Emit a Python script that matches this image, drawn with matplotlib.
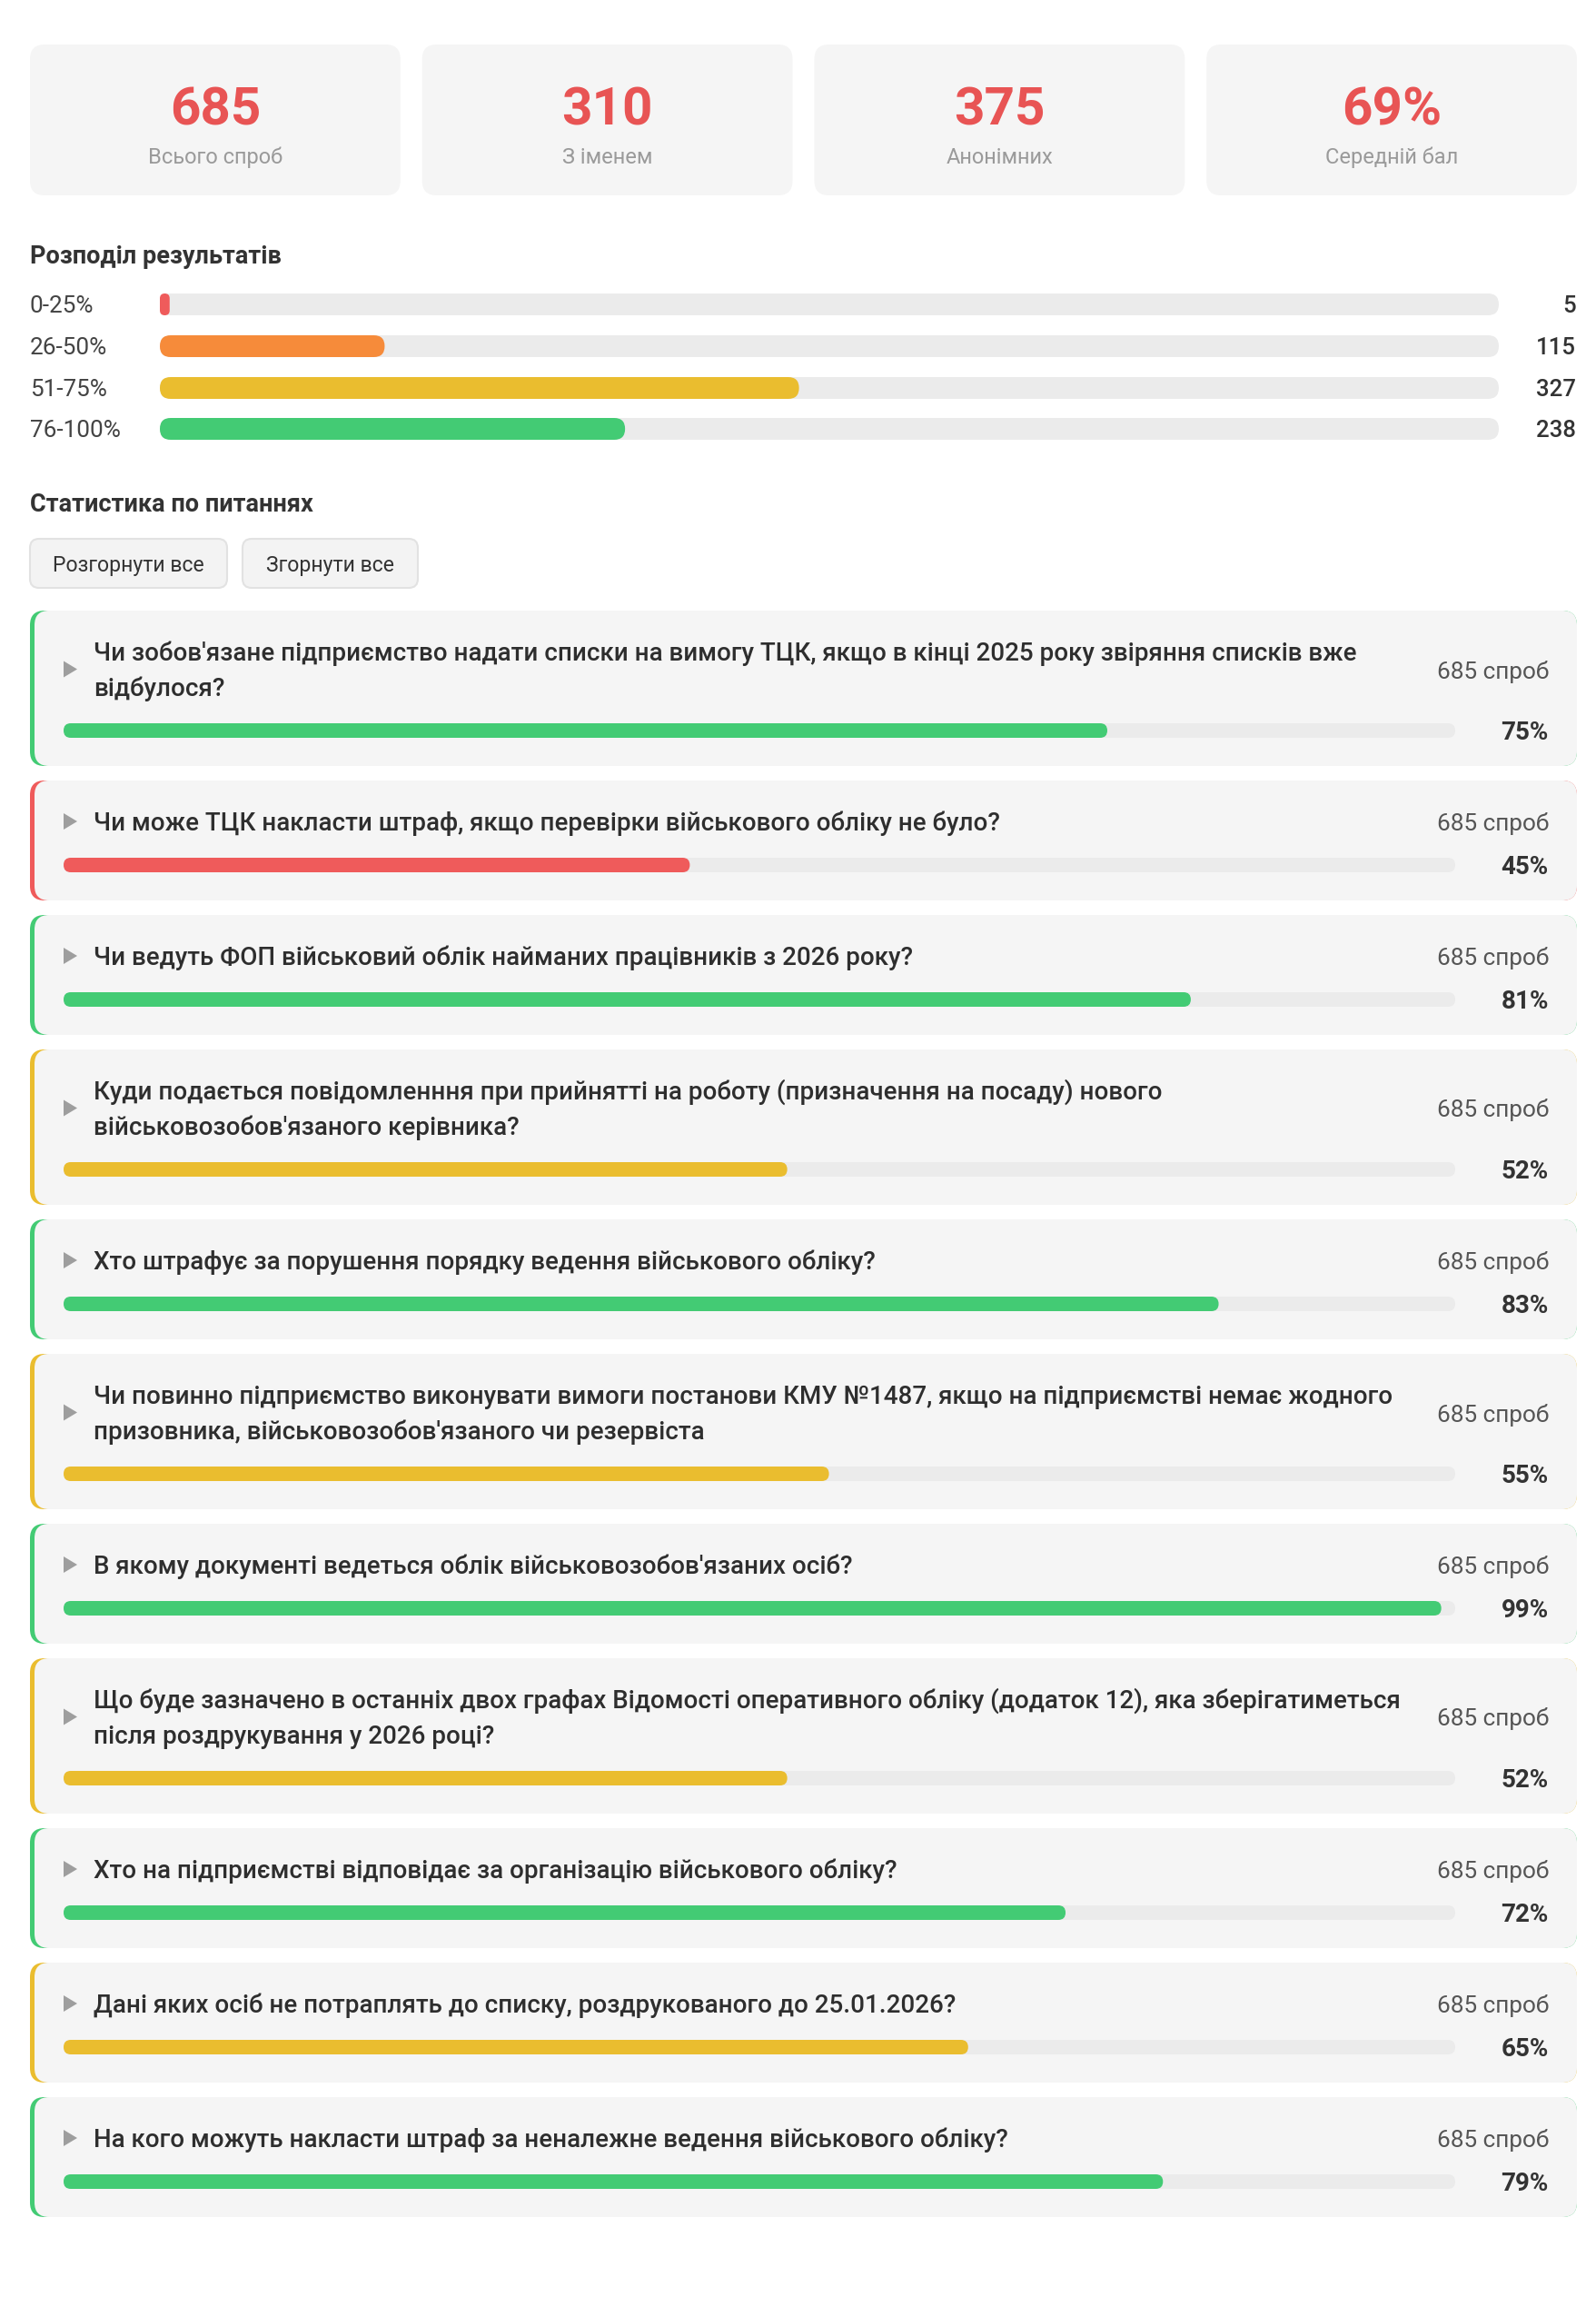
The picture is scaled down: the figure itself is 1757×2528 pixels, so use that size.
import matplotlib
matplotlib.use("Agg")
import matplotlib.pyplot as plt
from matplotlib.patches import FancyBboxPatch, Polygon

plt.rcParams['font.family'] = ['Roboto', 'DejaVu Sans']

# ---------------- data ----------------
stat_values = ["685", "310", "375", "69%"]
stat_labels = ["Всього спроб", "З іменем", "Анонімних", "Середній бал"]

dist_labels = ["0-25%", "26-50%", "51-75%", "76-100%"]
dist_counts = [5, 115, 327, 238]
total_attempts = 685

questions = [
    "Чи зобов'язане підприємство надати списки на вимогу ТЦК, якщо в кінці 2025 року звіряння списків вже\nвідбулося?",
    "Чи може ТЦК накласти штраф, якщо перевірки військового обліку не було?",
    "Чи ведуть ФОП військовий облік найманих працівників з 2026 року?",
    "Куди подається повідомленння при прийнятті на роботу (призначення на посаду) нового\nвійськовозобов'язаного керівника?",
    "Хто штрафує за порушення порядку ведення військового обліку?",
    "Чи повинно підприємство виконувати вимоги постанови КМУ №1487, якщо на підприємстві немає жодного\nпризовника, військовозобов'язаного чи резервіста",
    "В якому документі ведеться облік військовозобов'язаних осіб?",
    "Що буде зазначено в останніх двох графах Відомості оперативного обліку (додаток 12), яка зберігатиметься\nпісля роздрукування у 2026 році?",
    "Хто на підприємстві відповідає за організацію військового обліку?",
    "Дані яких осіб не потраплять до списку, роздрукованого до 25.01.2026?",
    "На кого можуть накласти штраф за неналежне ведення військового обліку?",
]
question_pct = [75, 45, 81, 52, 83, 55, 99, 52, 72, 65, 79]
question_attempts = [685] * 11

# ---------------- styles ----------------
RED_NUM = "#e85454"
RED = "#ef5b5b"
ORANGE = "#f68b3a"
YELLOW = "#eabd2f"
GREEN = "#43cb74"
TRACK = "#ebebeb"
CARD = "#f5f5f5"
DARK = "#333333"
GREY = "#9a9a9a"
dist_colors = [RED, ORANGE, YELLOW, GREEN]


def pct_color(p):
    if p >= 70:
        return GREEN
    if p >= 50:
        return YELLOW
    return RED


W, H = 1758, 2528
fig = plt.figure(figsize=(W / 100, H / 100), dpi=100)
ax = fig.add_axes([0, 0, 1, 1])
ax.set_xlim(0, W)
ax.set_ylim(H, 0)
ax.axis("off")


def rbox(x, y, w, h, r, fc, ec="none", lw=0, z=1):
    r = max(0.01, min(r, w / 2, h / 2))
    p = FancyBboxPatch((x, y), w, h, boxstyle=f"round,pad=0,rounding_size={r}",
                       fc=fc, ec=ec, lw=lw, zorder=z, mutation_aspect=1)
    ax.add_patch(p)
    return p


def hbar(x0, x1, yc, h, frac, color):
    rbox(x0, yc - h / 2, x1 - x0, h, h / 2, TRACK, z=2)
    w = (x1 - x0) * frac
    if w > 0:
        rbox(x0, yc - h / 2, w, h, h / 2, color, z=3)


# ---------------- stat cards ----------------
cx0, cx1, gap = 33, 1736, 24
cw = (cx1 - cx0 - 3 * gap) / 4
for i, (v, lab) in enumerate(zip(stat_values, stat_labels)):
    x = cx0 + i * (cw + gap)
    rbox(x, 49, cw, 166, 16, CARD)
    ax.text(x + cw / 2, 138, v, ha="center", va="baseline", fontsize=42,
            fontweight="bold", color=RED_NUM, zorder=5)
    ax.text(x + cw / 2, 180, lab, ha="center", va="baseline", fontsize=17,
            color=GREY, zorder=5)

# ---------------- distribution ----------------
ax.text(33, 290, "Розподіл результатів", ha="left", va="baseline",
        fontsize=19.5, fontweight="bold", color=DARK)
dist_y = [335, 381, 427, 472]
for lab, cnt, col, yc in zip(dist_labels, dist_counts, dist_colors, dist_y):
    ax.text(33, yc + 9, lab, ha="left", va="baseline", fontsize=18.8, color="#444444")
    hbar(176, 1650, yc, 24, cnt / total_attempts, col)
    ax.text(1735, yc + 9, str(cnt), ha="right", va="baseline", fontsize=18.5,
            fontweight="medium", color=DARK)

# ---------------- questions ----------------
ax.text(33, 563, "Статистика по питаннях", ha="left", va="baseline",
        fontsize=19.5, fontweight="bold", color=DARK)

for bx, bw, lab in [(33, 217, "Розгорнути все"), (267, 193, "Згорнути все")]:
    rbox(bx, 593, bw, 54, 10, "#f3f3f3", ec="#e2e2e2", lw=1.5)
    ax.text(bx + bw / 2, 628.5, lab, ha="center", va="baseline", fontsize=16.6, color=DARK)

top = 672
LINE = 39
for q, p, n in zip(questions, question_pct, question_attempts):
    lines = q.split("\n")
    nl = len(lines)
    base0 = top + 55
    last_base = base0 + LINE * (nl - 1)
    bar_c = last_base + 38
    bottom = bar_c + 39
    h = bottom - top
    col = pct_color(p)
    # card with coloured left border
    rbox(33, top, 1703, h, 16, col, z=1)
    rbox(38, top, 1698, h, 16, CARD, z=1.5)
    mid_base = (base0 + last_base) / 2
    cy = mid_base - 10
    tri = Polygon([[70, cy - 9], [70, cy + 9], [85, cy]], closed=True, fc="#9e9e9e",
                  ec="none", zorder=4)
    ax.add_patch(tri)
    for i, ln in enumerate(lines):
        ax.text(103, base0 + LINE * i, ln, ha="left", va="baseline", fontsize=20,
                fontweight="medium", color="#2e2e2e", zorder=5)
    ax.text(1705, mid_base, f"{n} спроб", ha="right", va="baseline", fontsize=18.8,
            color="#555555", zorder=5)
    hbar(70, 1602, bar_c, 16, p / 100, col)
    ax.text(1705, bar_c + 10, f"{p}%", ha="right", va="baseline", fontsize=20,
            fontweight="bold", color=DARK, zorder=5)
    top = bottom + 16

fig.savefig("out.png", dpi=100, facecolor="white")
